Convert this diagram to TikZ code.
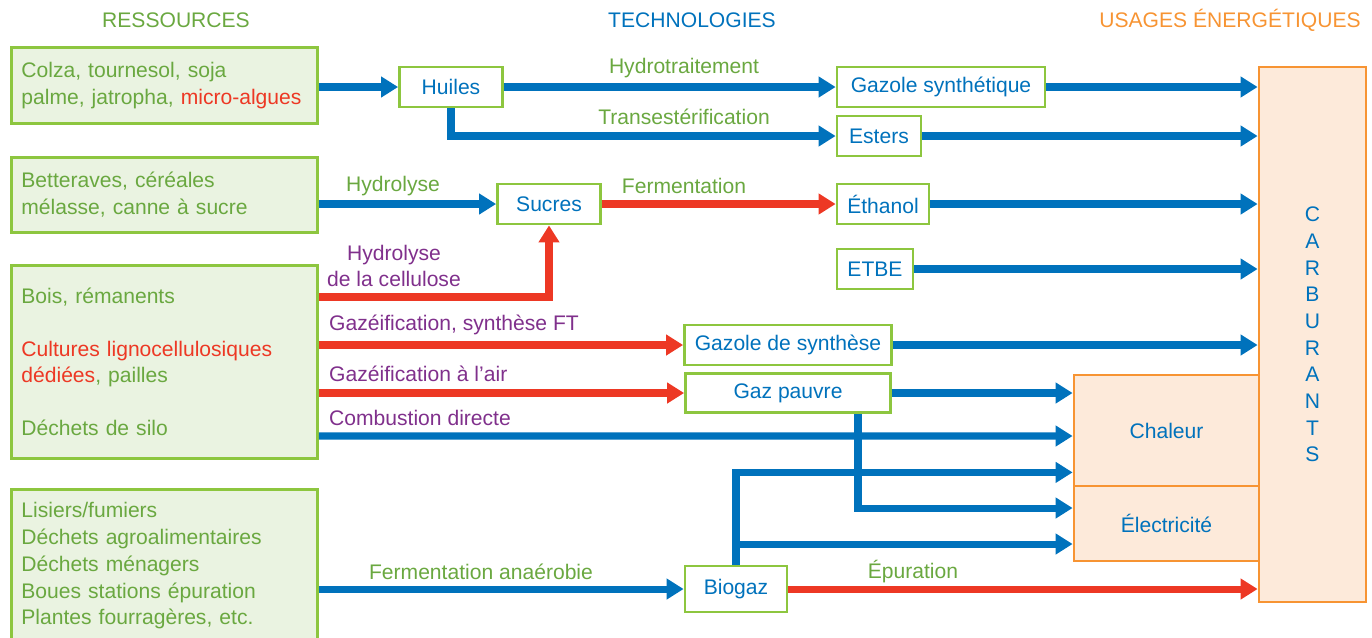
\documentclass[tikz,border=0pt]{standalone}
\usepackage{fontspec}
\setmainfont{Liberation Sans}
\usetikzlibrary{arrows.meta}
\usetikzlibrary{calc}
\definecolor{resgreen}{RGB}{106,168,64}
\definecolor{boxgreen}{RGB}{141,198,63}
\definecolor{resfill}{RGB}{234,243,225}
\definecolor{techblue}{RGB}{0,114,188}
\definecolor{flowred}{RGB}{237,56,36}
\definecolor{procpurple}{RGB}{128,48,140}
\definecolor{useorange}{RGB}{247,148,51}
\definecolor{usefill}{RGB}{253,234,218}

\begin{document}
\begin{tikzpicture}[x=0.02cm, y=-0.02cm, font=\fontsize{12}{15.2}\selectfont,
    resbox/.style={draw=boxgreen, line width=1.6pt, fill=resfill, text=resgreen, align=left,
        text width=5.72cm, inner xsep=0.2cm, anchor=north west},
    techbox/.style={draw=boxgreen, line width=1.6pt, fill=white, text=techblue,
        minimum height=0.8cm, inner sep=0.1cm},
    usebox/.style={draw=useorange, line width=1.6pt, fill=usefill, text=techblue,
        minimum width=3.7cm, align=center},
    flow/.style={line width=4pt, -{Triangle[length=0.34cm, width=0.4cm]}},
    blueflow/.style={flow, techblue},
    redflow/.style={flow, flowred},
    greenlbl/.style={text=resgreen},
    purplelbl/.style={text=procpurple, align=center}]
    \useasboundingbox (0,0) rectangle (1372,637);

    % column titles
    \node[text=resgreen] (hres) at (176,20) {RESSOURCES};
    \node[text=techblue] (htech) at (692,20) {TECHNOLOGIES};
    \node[text=useorange] (husage) at (1230,20) {USAGES ÉNERGÉTIQUES};

    % resources
    \node[resbox, minimum height=1.52cm] (colza) at (10,46) {Colza, tournesol, soja\\palme, jatropha, \textcolor{flowred}{micro-algues}};
    \node[resbox, minimum height=1.5cm] (bett) at (10,156) {Betteraves, céréales\\mélasse, canne à sucre};
    \node[resbox, minimum height=3.86cm] (bois) at (10,264) {Bois, rémanents\\[15pt]\textcolor{flowred}{Cultures lignocellulosiques}\\\textcolor{flowred}{dédiées}, pailles\\[15pt]Déchets de silo};
    \node[resbox, minimum height=3.06cm] (lisiers) at (10,488) {Lisiers/fumiers\\Déchets agroalimentaires\\Déchets ménagers\\Boues stations épuration\\Plantes fourragères, etc.};

    % technologies
    \node[techbox, minimum width=2.06cm] (huiles) at (451,87) {Huiles};
    \node[techbox, minimum width=4.16cm] (gazsynth) at (941,87) {Gazole synthétique};
    \node[techbox, minimum width=1.68cm] (esters) at (879,136) {Esters};
    \node[techbox, minimum width=2.06cm] (sucres) at (549,204) {Sucres};
    \node[techbox, minimum width=1.84cm] (ethanol) at (883,204) {Éthanol};
    \node[techbox, minimum width=1.52cm] (etbe) at (875,269) {ETBE};
    \node[techbox, minimum width=4.14cm] (gazole) at (788,345) {Gazole de synthèse};
    \node[techbox, minimum width=4.1cm, minimum height=0.78cm] (gazpauvre) at (788,393) {Gaz pauvre};
    \node[techbox, minimum width=2.04cm, minimum height=0.92cm] (biogaz) at (736,589) {Biogaz};

    % usages
    \node[usebox, minimum height=2.22cm] (chaleur) at (1166.5,430.5) {Chaleur};
    \node[usebox, minimum height=1.5cm] (elec) at (1166.5,523.5) {Électricité};
    \node[usebox, minimum height=10.7cm, minimum width=2.14cm] (carb) at (1312.5,334.5) {C\\A\\R\\B\\U\\R\\A\\N\\T\\S};

    % process labels
    \node[greenlbl] (lhydrot) at (684,68) {Hydrotraitement};
    \node[greenlbl] (ltrans) at (684,117) {Transestérification};
    \node[greenlbl] (lhydro) at (393,186) {Hydrolyse};
    \node[greenlbl] (lferm) at (684,186) {Fermentation};
    \node[purplelbl] (lcell) at (394,266) {Hydrolyse\\de la cellulose};
    \node[purplelbl, anchor=west] (lgazft) at (323,325) {Gazéification, synthèse FT};
    \node[purplelbl, anchor=west] (lgazair) at (323,374) {Gazéification à l’air};
    \node[purplelbl, anchor=west] (lcomb) at (323,418) {Combustion directe};
    \node[greenlbl] (lanaer) at (481,572) {Fermentation anaérobie};
    \node[greenlbl] (lepur) at (913,572) {Épuration};

    % oils
    \draw[blueflow] (colza.east |- huiles.west) -- (huiles.west);
    \draw[blueflow] (huiles.east) -- (gazsynth.west);
    \draw[blueflow] (huiles.south) |- (esters.west);
    \draw[blueflow] (gazsynth.east) -- (gazsynth.east -| carb.west);
    \draw[blueflow] (esters.east) -- (esters.east -| carb.west);

    % sugars
    \draw[blueflow] (bett.east |- sucres.west) -- (sucres.west);
    \draw[redflow] (sucres.east) -- (ethanol.west);
    \draw[redflow] ($(bois.north east)+(0,33)$) -| (sucres.south);
    \draw[blueflow] (ethanol.east) -- (ethanol.east -| carb.west);
    \draw[blueflow] (etbe.east) -- (etbe.east -| carb.west);

    % wood
    \draw[redflow] (bois.east |- gazole.west) -- (gazole.west);
    \draw[blueflow] (gazole.east) -- (gazole.east -| carb.west);
    \draw[redflow] (bois.east |- gazpauvre.west) -- (gazpauvre.west);
    \draw[blueflow] (gazpauvre.east) -- (gazpauvre.east -| chaleur.west);
    \draw[blueflow] ([xshift=1.4cm]gazpauvre.south) |- ($(elec.west)+(0,-15.5)$);
    \draw[blueflow] ($(bois.north east)+(0,172)$) -- ($(chaleur.west)+(0,5.5)$);

    % biogas
    \draw[blueflow] (lisiers.east |- biogaz.west) -- (biogaz.west);
    \draw[blueflow] (biogaz.north) |- ($(chaleur.south west)+(0,-15)$);
    \draw[blueflow] ($(elec.west -| biogaz.north)+(0,20.5)$) -- ($(elec.west)+(0,20.5)$);
    \draw[redflow] (biogaz.east) -- (biogaz.east -| carb.west);
\end{tikzpicture}
\end{document}
